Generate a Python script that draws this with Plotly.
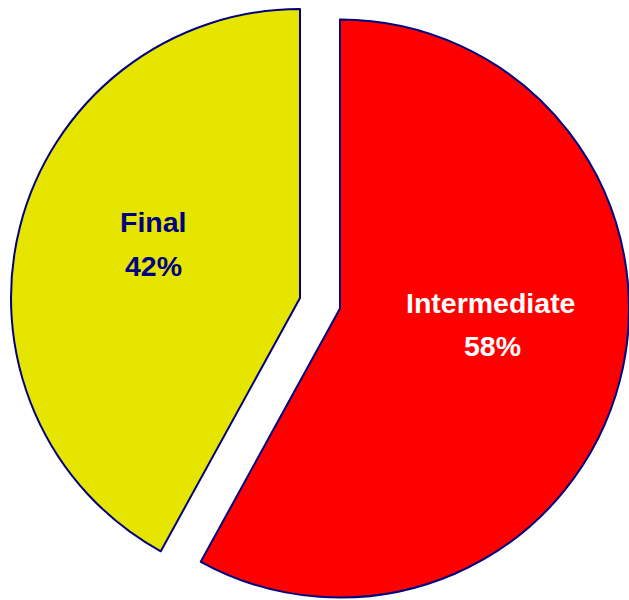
import plotly.graph_objects as go

# Share of items by stage
labels = ["Intermediate", "Final"]
values = [58, 42]
slice_colors = ["#FF0000", "#E5E500"]
label_colors = ["#FFFFFF", "#000080"]

W, H = 629, 600
R = 289  # pie radius in px
# each slice is drawn by its own pie trace so it can sit apart from the other
centers = [(340, 308.5), (300, 298)]
# label anchor points (px): name line and percent line
label_pos = [((490, 303), (492, 346)), ((153, 222), (153, 266))]

total = sum(values)
fig = go.Figure()
for i, (cx, cy) in enumerate(centers):
    cols = ["rgba(0,0,0,0)"] * len(values)
    widths = [0] * len(values)
    cols[i] = slice_colors[i]
    widths[i] = 2
    x0, x1 = max(0, (cx - R) / W), min(1, (cx + R) / W)
    y0, y1 = max(0, 1 - (cy + R) / H), min(1, 1 - (cy - R) / H)
    fig.add_trace(go.Pie(
        labels=labels,
        values=values,
        sort=False,
        direction="clockwise",
        rotation=0,
        textinfo="none",
        hoverinfo="label+percent",
        showlegend=False,
        marker=dict(colors=cols, line=dict(color="#000080", width=widths)),
        domain=dict(x=[x0, x1], y=[y0, y1]),
    ))

annotations = []
for i, lab in enumerate(labels):
    pct = round(values[i] / total * 100)
    (nx, ny), (px, py) = label_pos[i]
    for txt, (x, y) in ((lab, (nx, ny)), (f"{pct}%", (px, py))):
        annotations.append(dict(
            x=x / W, y=1 - y / H, xref="paper", yref="paper",
            text=f"<b>{txt}</b>", showarrow=False,
            xanchor="center", yanchor="middle",
            font=dict(family="Liberation Sans, Arial, sans-serif", size=28.5,
                      color=label_colors[i]),
        ))

fig.update_layout(
    width=W, height=H,
    margin=dict(l=0, r=0, t=0, b=0),
    paper_bgcolor="white",
    plot_bgcolor="white",
    annotations=annotations,
)

fig.write_html("out.html")
